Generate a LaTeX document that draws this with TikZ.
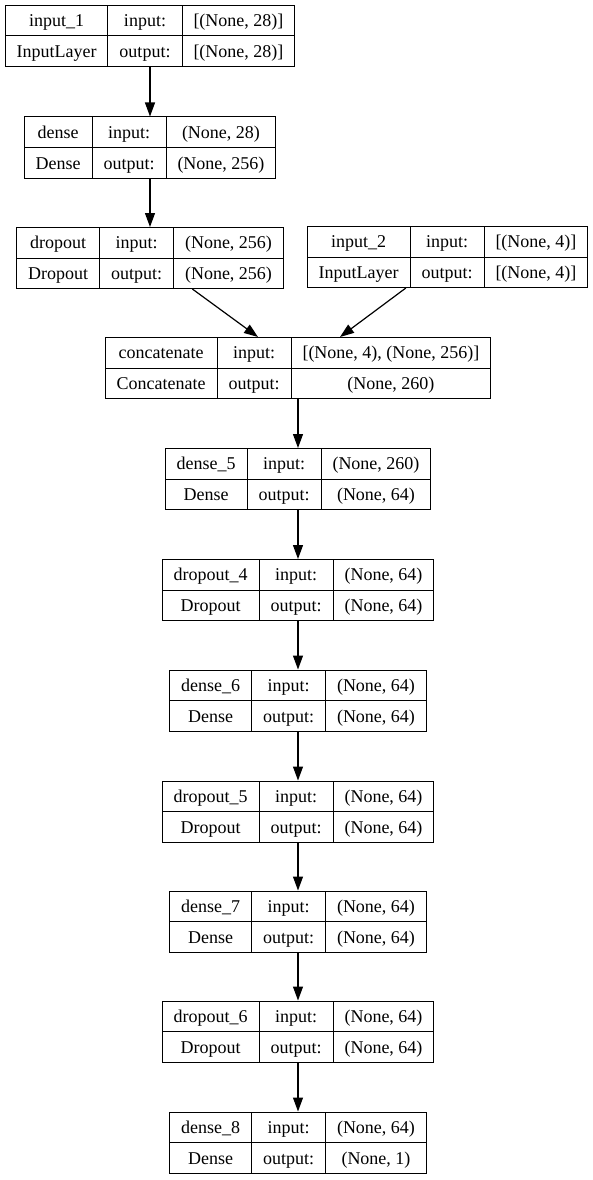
\documentclass[tikz,border=0pt]{standalone}
\usepackage{fontspec}
\setmainfont{Liberation Serif}
\usetikzlibrary{arrows.meta}
\setlength{\tabcolsep}{11.5pt}
\setlength{\arrayrulewidth}{1pt}
\newcommand{\cells}[4]{\begin{tabular}{c|c|c}#1 & input: & #3\\\hline #2 & output: & #4\end{tabular}}
\tikzset{
    layer/.style={draw,line width=1pt,inner sep=0pt,font=\fontsize{18}{30}\selectfont},
    flow/.style={-{Triangle[length=14pt,width=10pt]},line width=1.2pt}
}

\begin{document}
\begin{tikzpicture}[x=1pt,y=1pt]
    \useasboundingbox (0,0) rectangle (593,-1180);
    % left branch
    \node[layer] (input1) at (150,-36) {\cells{input\_1}{InputLayer}{[(None, 28)]}{[(None, 28)]}};
    \node[layer] (dense) at (150,-147.5) {\cells{dense}{Dense}{(None, 28)}{(None, 256)}};
    \node[layer] (dropout) at (150,-258) {\cells{dropout}{Dropout}{(None, 256)}{(None, 256)}};
    % right branch
    \node[layer] (input2) at (447.5,-257) {\cells{input\_2}{InputLayer}{[(None, 4)]}{[(None, 4)]}};
    % main column
    \node[layer] (concat) at (298,-368) {\cells{concatenate}{Concatenate}{[(None, 4), (None, 256)]}{(None, 260)}};
    \node[layer] (dense5) at (298,-479) {\cells{dense\_5}{Dense}{(None, 260)}{(None, 64)}};
    \node[layer] (dropout4) at (298,-590) {\cells{dropout\_4}{Dropout}{(None, 64)}{(None, 64)}};
    \node[layer] (dense6) at (298,-700.5) {\cells{dense\_6}{Dense}{(None, 64)}{(None, 64)}};
    \node[layer] (dropout5) at (298,-811.5) {\cells{dropout\_5}{Dropout}{(None, 64)}{(None, 64)}};
    \node[layer] (dense7) at (298,-921.5) {\cells{dense\_7}{Dense}{(None, 64)}{(None, 64)}};
    \node[layer] (dropout6) at (298,-1031.5) {\cells{dropout\_6}{Dropout}{(None, 64)}{(None, 64)}};
    \node[layer] (dense8) at (298,-1142.5) {\cells{dense\_8}{Dense}{(None, 64)}{(None, 1)}};
    % edges
    \draw[flow] (input1) -- (dense);
    \draw[flow] (dense) -- (dropout);
    \draw[flow] (dropout) -- ([xshift=-40pt]concat.north);
    \draw[flow] (input2) -- ([xshift=42pt]concat.north);
    \draw[flow] (concat) -- (dense5);
    \draw[flow] (dense5) -- (dropout4);
    \draw[flow] (dropout4) -- (dense6);
    \draw[flow] (dense6) -- (dropout5);
    \draw[flow] (dropout5) -- (dense7);
    \draw[flow] (dense7) -- (dropout6);
    \draw[flow] (dropout6) -- (dense8);
\end{tikzpicture}
\end{document}
